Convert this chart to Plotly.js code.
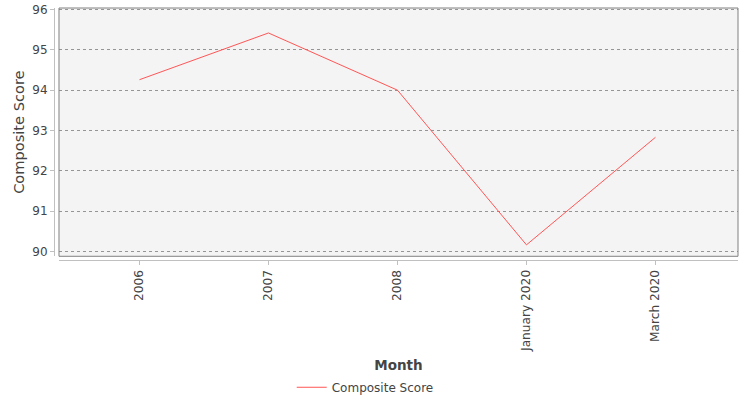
<!DOCTYPE html>
<html>
<head>
<meta charset="utf-8">
<script src="https://cdn.plot.ly/plotly-3.0.1.min.js"></script>
<style>html,body{margin:0;padding:0;background:#fff;}#chart{width:750px;height:400px;}</style>
</head>
<body>
<div id="chart"></div>
<script>
var months = ["2006", "2007", "2008", "January 2020", "March 2020"];
var compositeScore = [94.26, 95.42, 94.0, 90.16, 92.83];
var seriesName = "Composite Score";
var yTicks = [90, 91, 92, 93, 94, 95, 96];

var font = "DejaVu Sans, sans-serif";
var trace = {
  x: months,
  y: compositeScore,
  type: "scatter",
  mode: "lines",
  name: seriesName,
  line: {color: "#ff5555", width: 1}
};

var layout = {
  width: 750,
  height: 400,
  margin: {l: 54.3, r: 11.5, t: 8.3, b: 140, autoexpand: false},
  paper_bgcolor: "#ffffff",
  plot_bgcolor: "#f4f4f4",
  font: {family: font, color: "#444444", size: 11},
  showlegend: true,
  legend: {
    orientation: "h",
    x: 0.455, xanchor: "center",
    y: -0.505, yanchor: "middle",
    itemwidth: 30,
    font: {family: font, size: 12, color: "#444444"},
    bgcolor: "rgba(0,0,0,0)"
  },
  xaxis: {
    type: "category",
    domain: [0.0073, 1],
    anchor: "free",
    position: 0,
    automargin: false,
    range: [-0.624, 4.64],
    showgrid: false,
    zeroline: false,
    showline: true,
    linecolor: "#c0c0c0",
    linewidth: 1,
    ticks: "outside",
    ticklen: 4,
    tickcolor: "#c0c0c0",
    tickangle: -90,
    tickfont: {family: font, size: 12.2, color: "#444444"},
    title: {text: "Month", font: {family: font, size: 13.5, color: "#444444", weight: "bold"}, standoff: 9}
  },
  yaxis: {
    domain: [0.0147, 1],
    anchor: "free",
    position: 0,
    automargin: false,
    range: [89.876, 96.04],
    tickvals: yTicks,
    showgrid: true,
    gridcolor: "#555555",
    griddash: "dot",
    gridwidth: 0.6,
    zeroline: false,
    showline: true,
    linecolor: "#c0c0c0",
    linewidth: 1,
    ticks: "outside",
    ticklen: 4,
    tickcolor: "#c0c0c0",
    tickfont: {family: font, size: 12, color: "#444444"},
    title: {text: "Composite Score", font: {family: font, size: 14.6, color: "#444444"}, standoff: 3}
  },
  shapes: [{
    type: "rect", xref: "x domain", yref: "y domain",
    x0: 0, x1: 1, y0: 0, y1: 1,
    line: {color: "#808080", width: 1},
    fillcolor: "rgba(0,0,0,0)",
    layer: "above"
  }]
};

Plotly.newPlot("chart", [trace], layout, {displayModeBar: false, staticPlot: true});
</script>
</body>
</html>
